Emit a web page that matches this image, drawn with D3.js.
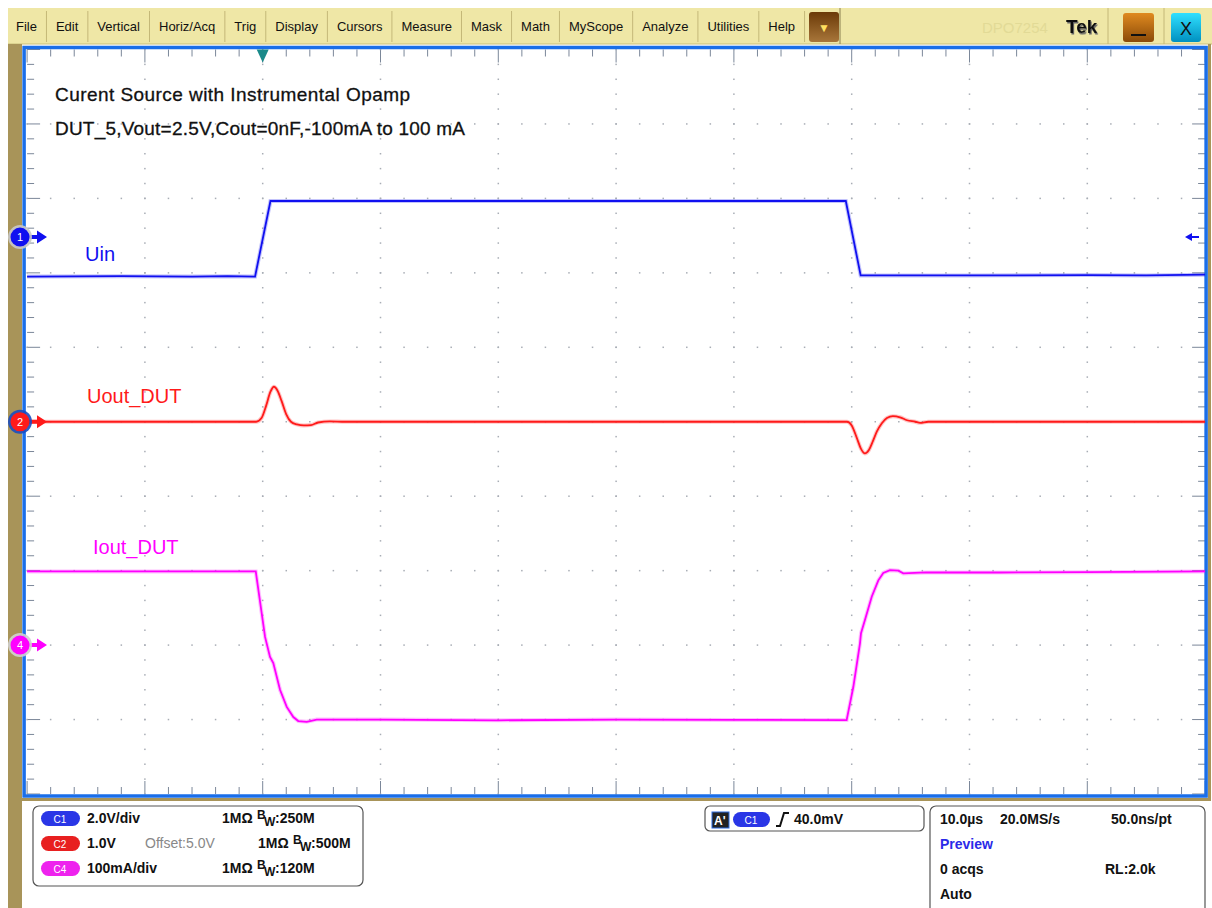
<!DOCTYPE html>
<html>
<head>
<meta charset="utf-8">
<script src="https://cdn.jsdelivr.net/npm/d3@7"></script>
<style>
  body { margin: 0; background: #fff; }
  svg { display: block; font-family: "Liberation Sans", Arial, sans-serif; }
</style>
</head>
<body>
<svg id="scope" width="1212" height="908"></svg>
<script>
// ---- data (time in µs, values in channel units) ----
const menuItems = ["File", "Edit", "Vertical", "Horiz/Acq", "Trig", "Display", "Cursors",
  "Measure", "Mask", "Math", "MyScope", "Analyze", "Utilities", "Help"];

const titleLines = ["Curent Source with Instrumental Opamp",
  "DUT_5,Vout=2.5V,Cout=0nF,-100mA to 100 mA"];

// C1 Uin [µs, V]
const uinPoints = [
  [-20, -1.06], [-12, -1.05], [-6, -1.06], [-3, -1.05], [-0.65, -1.06],
  [0.66, 0.97], [20, 0.97], [49.5, 0.97],
  [50.76, -1.03], [60, -1.03], [70, -1.02], [75, -1.03], [80, -1.01]
];

// C2 Uout_DUT [µs, V]
const uoutPoints = [
  [-20, 5.0], [-0.55, 5.0], [-0.1, 5.05], [0.3, 5.22], [0.65, 5.4], [0.95, 5.47],
  [1.25, 5.42], [1.6, 5.28], [2.0, 5.1], [2.4, 5.0], [2.9, 4.965], [3.5, 4.95],
  [4.1, 4.955], [4.7, 4.99], [5.7, 5.005], [7.0, 5.0], [49.6, 5.0],
  [50.0, 4.95], [50.44, 4.78], [50.78, 4.64], [51.12, 4.575], [51.46, 4.62],
  [51.8, 4.74], [52.14, 4.87], [52.56, 4.98], [52.99, 5.05], [53.5, 5.075],
  [54.1, 5.06], [54.7, 5.02], [55.4, 5.0], [55.8, 4.985], [56.5, 5.0], [80, 5.0]
];

// C4 Iout_DUT [µs, mA]
const ioutPoints = [
  [-20, 99], [-0.59, 99], [0.2, 11], [0.62, -16], [0.9, -24], [1.47, -60],
  [2.04, -83], [2.6, -96.6], [3.02, -102], [3.74, -103], [4.58, -100],
  [10, -100], [20, -101], [30, -100], [40, -100.5], [49.57, -100.7],
  [50.14, -56], [50.7, 2], [50.79, 16], [51.13, 34], [51.7, 65], [52.26, 87],
  [52.68, 97], [53.25, 100.7], [53.96, 100], [54.38, 96.3], [56.3, 97.6],
  [62.6, 97.5], [70, 98], [80, 99]
];

const channels = [
  { id: "1", name: "Uin", color: "#1010f0", perDiv: 2.0, offset: 0, pos: 2.48, data: uinPoints, smooth: false },
  { id: "2", name: "Uout_DUT", color: "#ff1a1a", perDiv: 1.0, offset: 5.0, pos: 0, data: uoutPoints, smooth: true },
  { id: "4", name: "Iout_DUT", color: "#ff00ff", perDiv: 100, offset: 0, pos: -3.0, data: ioutPoints, smooth: false }
];

const vertInfo = [
  ["C1", "#2a36e6", "2.0V/div", "", "1MΩ", "250M"],
  ["C2", "#e82020", "1.0V", "Offset:5.0V", "1MΩ", "500M"],
  ["C4", "#ee22ee", "100mA/div", "", "1MΩ", "120M"]
];
const horizInfo = [["10.0µs", "20.0MS/s", "50.0ns/pt"], ["Preview"], ["0 acqs", "", "RL:2.0k"], ["Auto"]];

// ---- layout ----
const svg = d3.select("#scope");
const plot = { left: 27.1, right: 1205.1, top: 49.5, bottom: 794 };
const x = d3.scaleLinear().domain([-20, 80]).range([plot.left, plot.right]);
const yDiv = d3.scaleLinear().domain([5, -5]).range([plot.top, plot.bottom]);
const divW = (plot.right - plot.left) / 10;
const divH = (plot.bottom - plot.top) / 10;

const defs = svg.append("defs");
function grad(id, top, bottom) {
  const g = defs.append("linearGradient").attr("id", id).attr("x1", 0).attr("y1", 0).attr("x2", 0).attr("y2", 1);
  g.append("stop").attr("offset", "0%").attr("stop-color", top);
  g.append("stop").attr("offset", "100%").attr("stop-color", bottom);
}
grad("gBrown", "#6b3a08", "#a8763a");
grad("gOrange", "#e08a20", "#8a4a08");
grad("gCyan", "#30e0ff", "#0090c0");
defs.append("filter").attr("id", "shadow").append("feDropShadow")
  .attr("dx", 1).attr("dy", 1.5).attr("stdDeviation", 0.4).attr("flood-color", "#666");

// menu bar
svg.append("rect").attr("x", 8).attr("y", 8).attr("width", 1204).attr("height", 36).attr("fill", "#efe7a6");
svg.append("line").attr("x1", 8).attr("x2", 1212).attr("y1", 44).attr("y2", 44).attr("stroke", "#c9bf7a");

let mx = 16;
menuItems.forEach((m, i) => {
  const t = svg.append("text").attr("x", mx).attr("y", 31).attr("font-size", 13).attr("fill", "#111").text(m);
  const w = t.node().getComputedTextLength();
  mx += w + 9.5;
  svg.append("line").attr("x1", mx).attr("x2", mx).attr("y1", 11).attr("y2", 42).attr("stroke", "#c4b878");
  mx += 9.5;
});
svg.append("rect").attr("x", 809).attr("y", 12).attr("width", 30).attr("height", 30).attr("rx", 3).attr("fill", "url(#gBrown)");
svg.append("text").attr("x", 824).attr("y", 32).attr("text-anchor", "middle").attr("font-size", 12).attr("fill", "#ffe060").text("▼");
svg.append("line").attr("x1", 840).attr("x2", 840).attr("y1", 8).attr("y2", 44).attr("stroke", "#8a8050");
svg.append("text").attr("x", 982).attr("y", 33).attr("font-size", 15).attr("fill", "#e2da96").text("DPO7254");
svg.append("text").attr("x", 1066).attr("y", 33).attr("font-size", 19).attr("font-weight", "bold")
  .attr("fill", "#111").attr("filter", "url(#shadow)").text("Tek");
svg.append("line").attr("x1", 1108).attr("x2", 1108).attr("y1", 8).attr("y2", 44).attr("stroke", "#c4b878");
svg.append("rect").attr("x", 1123).attr("y", 13).attr("width", 31).attr("height", 29).attr("rx", 3).attr("fill", "url(#gOrange)");
svg.append("line").attr("x1", 1131).attr("x2", 1146).attr("y1", 35).attr("y2", 35).attr("stroke", "#111").attr("stroke-width", 2);
svg.append("line").attr("x1", 1164).attr("x2", 1164).attr("y1", 8).attr("y2", 44).attr("stroke", "#c4b878");
svg.append("rect").attr("x", 1171).attr("y", 13).attr("width", 30).attr("height", 29).attr("rx", 3).attr("fill", "url(#gCyan)");
svg.append("text").attr("x", 1186).attr("y", 35).attr("text-anchor", "middle").attr("font-size", 18).attr("fill", "#111").text("X");

// side frame
svg.append("rect").attr("x", 8).attr("y", 44).attr("width", 14).attr("height", 864).attr("fill", "#a89459");
svg.append("rect").attr("x", 1208).attr("y", 44).attr("width", 3).attr("height", 756).attr("fill", "#a89459");
svg.append("rect").attr("x", 22).attr("y", 798).attr("width", 1189).attr("height", 3).attr("fill", "#a89459");

// graticule
const g = svg.append("g");
const minorX = d3.range(0, 50.001).map(i => plot.left + i * divW / 5);
const minorY = d3.range(0, 50.001).map(i => plot.top + i * divH / 5);
const tickCol = "#7b8799";
minorY.forEach((yy, i) => {
  const L = i % 5 === 0 ? 13 : 7;
  g.append("line").attr("x1", plot.left).attr("x2", plot.left + L).attr("y1", yy).attr("y2", yy).attr("stroke", tickCol);
  g.append("line").attr("x1", plot.right - L).attr("x2", plot.right).attr("y1", yy).attr("y2", yy).attr("stroke", tickCol);
});
minorX.forEach((xx, i) => {
  const L = i % 5 === 0 ? 13 : 7;
  g.append("line").attr("x1", xx).attr("x2", xx).attr("y1", plot.top).attr("y2", plot.top + L).attr("stroke", tickCol);
  g.append("line").attr("x1", xx).attr("x2", xx).attr("y1", plot.bottom - L).attr("y2", plot.bottom).attr("stroke", tickCol);
});
// dotted major lines
for (let i = 1; i < 10; i++) {
  const xx = plot.left + i * divW;
  minorY.forEach(yy => g.append("rect").attr("x", xx - 0.75).attr("y", yy - 0.75).attr("width", 1.5).attr("height", 1.5).attr("fill", "#a8adb5"));
  const yy = plot.top + i * divH;
  minorX.forEach(xv => g.append("rect").attr("x", xv - 0.75).attr("y", yy - 0.75).attr("width", 1.5).attr("height", 1.5).attr("fill", "#a8adb5"));
}

// border
svg.append("rect").attr("x", plot.left - 3).attr("y", plot.top - 2).attr("width", plot.right - plot.left + 4)
  .attr("height", plot.bottom - plot.top + 4).attr("fill", "none").attr("stroke", "#1a6ee8").attr("stroke-width", 3.5);

// title
titleLines.forEach((t, i) => {
  svg.append("text").attr("x", 55).attr("y", 101 + i * 34).attr("font-size", 19).attr("fill", "#111")
    .attr("stroke", "#111").attr("stroke-width", 0.3)
    .attr("textLength", i === 0 ? 355 : 410).text(t);
});

// traces
channels.forEach(ch => {
  const yVal = v => yDiv((v - ch.offset) / ch.perDiv + ch.pos);
  const line = d3.line().curve(ch.smooth ? d3.curveMonotoneX : d3.curveLinear)
    .x(d => x(d[0])).y(d => yVal(d[1]));
  svg.append("path").datum(ch.data).attr("d", line).attr("fill", "none")
    .attr("stroke", ch.color).attr("stroke-opacity", 0.25).attr("stroke-width", 4);
  svg.append("path").datum(ch.data).attr("d", line).attr("fill", "none")
    .attr("stroke", ch.color).attr("stroke-width", 1.8);
});

// trace labels
svg.append("text").attr("x", 85).attr("y", 261).attr("font-size", 20).attr("fill", "#1010f0").text("Uin");
svg.append("text").attr("x", 87).attr("y", 403).attr("font-size", 20).attr("fill", "#ff1a1a").text("Uout_DUT");
svg.append("text").attr("x", 93).attr("y", 554).attr("font-size", 20).attr("fill", "#ff00ff").text("Iout_DUT");

// channel markers
const ringCol = { "1": "#c8c8c8", "2": "#1a4cc0", "4": "#d0d0d0" };
channels.forEach(ch => {
  const yy = yDiv(ch.pos);
  svg.append("path").attr("d", `M26,${yy - 2}L37,${yy - 2}L37,${yy - 6.5}L47,${yy}L37,${yy + 6.5}L37,${yy + 2}L26,${yy + 2}Z`).attr("fill", ch.color);
  svg.append("circle").attr("cx", 20).attr("cy", yy).attr("r", 12).attr("fill", ringCol[ch.id]).attr("opacity", 0.9);
  svg.append("circle").attr("cx", 20).attr("cy", yy).attr("r", 9.5).attr("fill", ch.color);
  svg.append("text").attr("x", 20).attr("y", yy + 4).attr("text-anchor", "middle").attr("font-size", 11).attr("fill", "#fff").text(ch.id);
});
// trigger level arrow (right) and trigger position (top)
const trigY = yDiv(channels[0].pos);
svg.append("path").attr("d", `M1185,${trigY}L1192,${trigY - 4}L1192,${trigY - 1}L1199,${trigY - 1}L1199,${trigY + 1}L1192,${trigY + 1}L1192,${trigY + 4}Z`).attr("fill", "#1010f0");
svg.append("path").attr("d", `M${x(0) - 6},${plot.top}L${x(0) + 6},${plot.top}L${x(0)},${plot.top + 13}Z`).attr("fill", "#1a8a8a");

// bottom panels
const bottom = svg.append("g").attr("font-weight", "bold").attr("font-size", 14).attr("fill", "#111");
bottom.append("rect").attr("x", 33).attr("y", 806).attr("width", 330).attr("height", 80).attr("rx", 6)
  .attr("fill", "#fff").attr("stroke", "#555").attr("stroke-width", 1.2);
vertInfo.forEach((r, i) => {
  const yy = 823 + i * 25;
  bottom.append("rect").attr("x", 41).attr("y", yy - 12).attr("width", 39).attr("height", 15).attr("rx", 7.5).attr("fill", r[1]);
  bottom.append("text").attr("x", 60).attr("y", yy).attr("text-anchor", "middle").attr("font-size", 10).attr("font-weight", "normal").attr("fill", "#fff").text(r[0]);
  bottom.append("text").attr("x", 87).attr("y", yy).text(r[2]);
  if (r[3]) bottom.append("text").attr("x", 145).attr("y", yy).attr("fill", "#888").attr("font-weight", "normal").text(r[3]);
  const ox = r[3] ? 258 : 222;
  bottom.append("text").attr("x", ox).attr("y", yy).text(r[4]);
  bottom.append("text").attr("x", ox + 35).attr("y", yy - 4).attr("font-size", 12).text("B");
  bottom.append("text").attr("x", ox + 42).attr("y", yy + 3).attr("font-size", 12).text("W");
  bottom.append("text").attr("x", ox + 53).attr("y", yy).text(":" + r[5]);
});

bottom.append("rect").attr("x", 705).attr("y", 806).attr("width", 219).attr("height", 25).attr("rx", 5)
  .attr("fill", "#fff").attr("stroke", "#555").attr("stroke-width", 1.2);
bottom.append("rect").attr("x", 712).attr("y", 812).attr("width", 17).attr("height", 16).attr("fill", "#222").attr("stroke", "#2a6ae0");
bottom.append("text").attr("x", 714).attr("y", 825).attr("fill", "#fff").attr("font-size", 12).text("A'");
bottom.append("rect").attr("x", 733).attr("y", 812).attr("width", 37).attr("height", 15).attr("rx", 7.5).attr("fill", "#2a36e6");
bottom.append("text").attr("x", 751).attr("y", 824).attr("text-anchor", "middle").attr("font-size", 10).attr("font-weight", "normal").attr("fill", "#fff").text("C1");
bottom.append("path").attr("d", "M776,826L780,826L784,813L789,813").attr("fill", "none").attr("stroke", "#111").attr("stroke-width", 2);
bottom.append("text").attr("x", 794).attr("y", 824).text("40.0mV");

bottom.append("rect").attr("x", 930).attr("y", 806).attr("width", 275).attr("height", 110).attr("rx", 6)
  .attr("fill", "#fff").attr("stroke", "#555").attr("stroke-width", 1.2);
const hx = [940, 1000, 1111];
horizInfo.forEach((r, i) => {
  const yy = 824 + i * 25;
  r.forEach((t, j) => {
    if (!t) return;
    bottom.append("text").attr("x", j === 2 && i === 2 ? 1105 : hx[j]).attr("y", yy)
      .attr("fill", t === "Preview" ? "#2a2ae8" : "#111").text(t);
  });
});
</script>
</body>
</html>
